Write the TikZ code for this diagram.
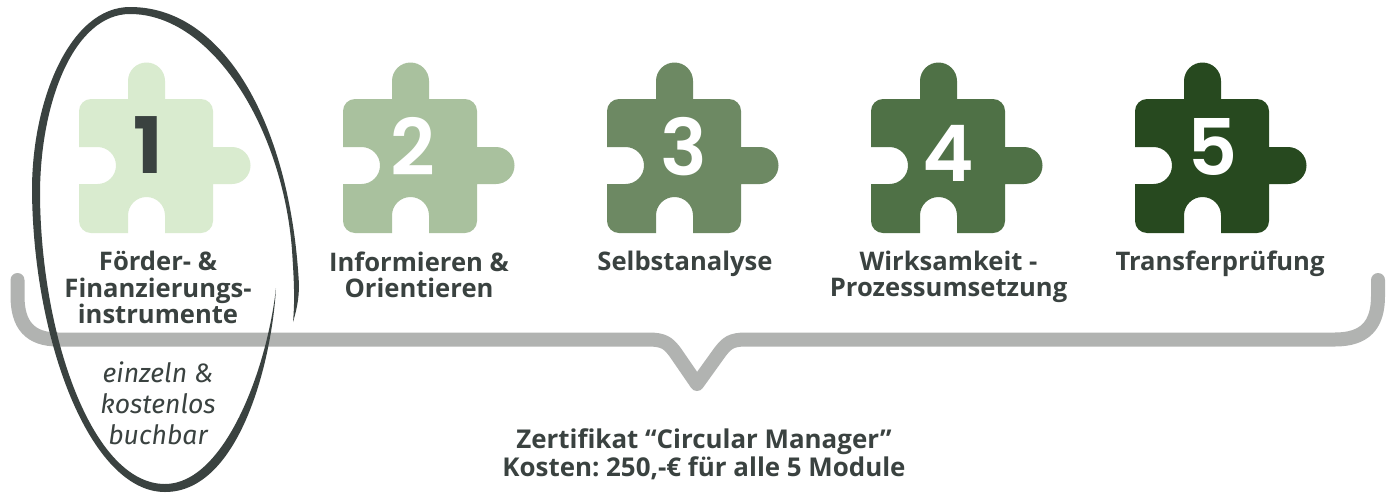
\documentclass[tikz,border=0pt]{standalone}
\usepackage{fontspec}
\setmainfont{Open Sans}
\frenchspacing
\newfontfamily\notefont{Fira Sans}
\newfontfamily\numfont{Poppins}
\newfontfamily\numlight{Poppins SemiBold}
\definecolor{ink}{HTML}{3A4240}
\definecolor{brace}{HTML}{B1B3B1}
\definecolor{pa}{HTML}{D9EBCF}
\definecolor{pb}{HTML}{A9C19E}
\definecolor{pc}{HTML}{6D8963}
\definecolor{pd}{HTML}{4F7146}
\definecolor{pe}{HTML}{27491F}
\tikzset{
  lab/.style={font=\fontsize{25.6}{26.5}\selectfont\bfseries,text=ink,align=center,inner sep=0pt},
  num/.style={font=\numfont\fontsize{78}{78}\selectfont\bfseries,inner sep=0pt},
  numw/.style={font=\numlight\fontsize{78}{78}\selectfont,text=white,inner sep=0pt},
  piece/.pic={
    \fill[pic actions,y=1pt] (12,-99) -- (49,-99) -- (49,-81) arc[start angle=180,end angle=0,radius=18.5] -- (86,-99)
      -- (122,-99) arc[start angle=90,end angle=0,radius=12] -- (134,-147) -- (153,-147)
      arc[start angle=90,end angle=-90,radius=18.5] -- (134,-184) -- (134,-221)
      arc[start angle=0,end angle=-90,radius=12] -- (86,-233) -- (86,-215.5)
      arc[start angle=0,end angle=180,radius=18.5] -- (49,-233) -- (12,-233)
      arc[start angle=270,end angle=180,radius=12] -- (0,-184) -- (18.5,-184)
      arc[start angle=-90,end angle=90,radius=18.5] -- (0,-147) -- (0,-111)
      arc[start angle=180,end angle=90,radius=12] -- cycle;
  }
}
\begin{document}
\begin{tikzpicture}[x=1pt,y=-1pt]
\useasboundingbox (0,0) rectangle (1391,493);
\fill[white] (0,0) rectangle (1391,493);
% brace
\draw[brace,line width=14pt,line cap=round,line join=round]
  (17.5,280) -- (17.5,296) .. controls (17.5,325) and (30,339.5) .. (58,339.5)
  -- (648,339.5) .. controls (664,339.5) and (668,343) .. (675,352)
  -- (697,384) -- (720,352) .. controls (727,343) and (731,339.5) .. (746,339.5)
  -- (1335,339.5) .. controls (1365,339.5) and (1378,325) .. (1378,296) -- (1378,280);
% pieces
\pic[pa] at (79,0) {piece};
\pic[pb] at (343,0) {piece};
\pic[pc] at (607,0) {piece};
\pic[pd] at (871,0) {piece};
\pic[pe] at (1135,0) {piece};
\node[num,text=ink] (n1) at (148.5,145) {1};
\node[numw] (n2) at (412.5,146) {2};
\node[numw] (n3) at (684,147) {3};
\node[numw] (n4) at (948,153) {4};
\node[numw] (n5) at (1212.5,147) {5};
% labels
\node[lab] (l1) at (158,287.5) {Förder- \&\\Finanzierungs-\\instrumente};
\node[lab] (l2) at (419,275) {Informieren \&\\Orientieren};
\node[lab] (l3) at (685,264) {Selbstanalyse};
\node[lab] (l4) at (948.5,277) {Wirksamkeit -\\Prozessumsetzung};
\node[lab] (l5) at (1220,264) {Transferprüfung};
\node[font=\notefont\fontsize{26.6}{31}\selectfont\itshape,text=ink,align=center,inner sep=0pt] (note) at (158,403) {einzeln \&\\kostenlos\\buchbar};
\node[font=\fontsize{25.9}{28}\selectfont\bfseries,text=ink,align=center,inner sep=0pt] (cert) at (704,454) {Zertifikat “Circular Manager”\\Kosten: 250,-€ für alle 5 Module};
% hand-drawn ellipse
\fill[ink] (276,288) .. controls (272,360) and (240,492) .. (165,492)
 .. controls (90,492) and (33,340) .. (32,190)
 .. controls (32,100) and (70,7) .. (130,7)
 .. controls (227,7) and (291,130) .. (299,285)
 .. controls (299,300) and (296,312) .. (293,322)
 .. controls (295,300) and (294,280) .. (292,250)
 .. controls (283,130) and (213,14) .. (130,14)
 .. controls (75,14) and (40,100) .. (40,195)
 .. controls (41,335) and (92,484) .. (165,484)
 .. controls (224,484) and (267,370) .. (276,288) -- cycle;
\end{tikzpicture}
\end{document}
